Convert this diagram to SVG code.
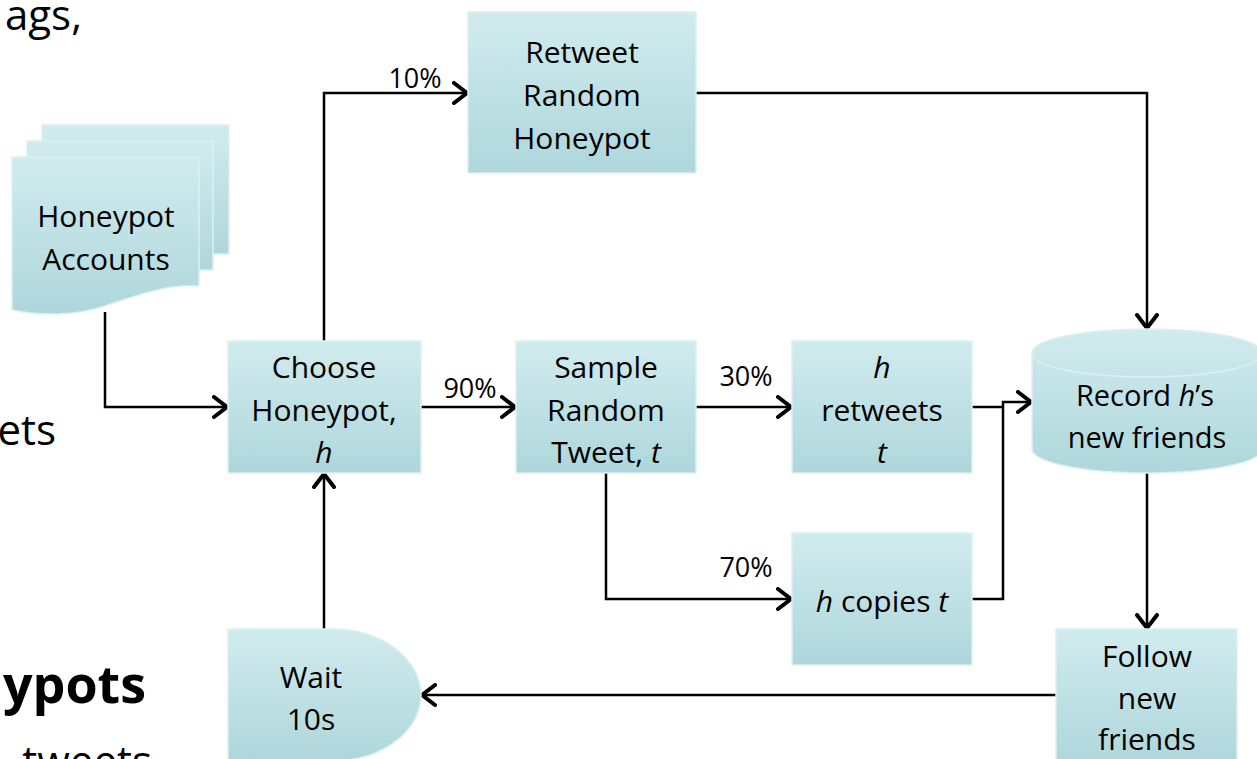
<svg xmlns="http://www.w3.org/2000/svg" width="1257" height="759" viewBox="0 0 1257 759">
<defs>
<linearGradient id="fill" x1="0" y1="0" x2="0" y2="1">
<stop offset="0" stop-color="#D1EBEE"/>
<stop offset="1" stop-color="#AED7DB"/>
</linearGradient>
<marker id="arr" viewBox="0 0 16 24" refX="15" refY="12" markerWidth="16" markerHeight="24" markerUnits="userSpaceOnUse" orient="auto">
<path d="M2,2 L15,12 L2,22" fill="none" stroke="#000" stroke-width="4" stroke-linecap="round" stroke-linejoin="miter"/>
</marker>
</defs>
<style>
.n{fill:url(#fill);stroke:#DDF0F2;stroke-width:1.5}
.t{font-family:"Open Sans","Liberation Sans",sans-serif;font-size:30px;fill:#000;text-anchor:middle}
.l{font-family:"Open Sans","Liberation Sans",sans-serif;font-size:27px;fill:#000;text-anchor:middle}
.bg{font-family:"Open Sans","Liberation Sans",sans-serif;font-size:42px;fill:#000;text-anchor:end}
.c{fill:none;stroke:#000;stroke-width:2.5;marker-end:url(#arr)}
.p{fill:none;stroke:#000;stroke-width:2.5}
.i{font-style:italic}
</style>
<rect width="1257" height="759" fill="#fff"/>
<g id="background-text">
<text class="bg" x="82" y="30">ags,</text>
<text class="bg" x="56" y="445">ets</text>
<text class="bg" x="146" y="703" style="font-weight:bold;font-size:52px">ypots</text>
<text class="bg" x="152" y="776">tweets</text>
</g>
<g id="connectors">
<path class="c" d="M105,312 V407 H227"/>
<path class="c" d="M324,341 V93 H467"/>
<path class="c" d="M421,407 H515"/>
<path class="c" d="M696,407 H791"/>
<path class="c" d="M606,473 V599 H791"/>
<path class="p" d="M972,407 H1003"/>
<path class="c" d="M972,599 H1003 V402 H1031"/>
<path class="c" d="M696,93 H1147 V328"/>
<path class="c" d="M1147,473 V628"/>
<path class="c" d="M1056,695 H422"/>
<path class="c" d="M324,629 V474"/>
<text class="l" x="415" y="88">10%</text>
<text class="l" x="470" y="398">90%</text>
<text class="l" x="746" y="386">30%</text>
<text class="l" x="746" y="577">70%</text>
</g>
<g id="honeypot-accounts">
<rect class="n" x="42" y="125" width="187" height="129"/>
<rect class="n" x="27" y="141" width="186" height="129"/>
<path class="n" d="M12,157 H199 V286 C165,284 135,296 105,306 C75,316 40,316 12,310 Z"/>
<text class="t" x="106" y="227">Honeypot</text>
<text class="t" x="106" y="270">Accounts</text>
</g>
<g id="retweet-random-honeypot">
<rect class="n" x="468" y="12" width="228" height="161"/>
<text class="t" x="582" y="63">Retweet</text>
<text class="t" x="582" y="106">Random</text>
<text class="t" x="582" y="149">Honeypot</text>
</g>
<g id="choose-honeypot">
<rect class="n" x="228" y="341" width="193" height="132"/>
<text class="t" x="324" y="378">Choose</text>
<text class="t" x="324" y="421">Honeypot,</text>
<text class="t i" x="324" y="463">h</text>
</g>
<g id="sample-random-tweet">
<rect class="n" x="516" y="341" width="180" height="132"/>
<text class="t" x="606" y="378">Sample</text>
<text class="t" x="606" y="421">Random</text>
<text class="t" x="606" y="463">Tweet, <tspan class="i">t</tspan></text>
</g>
<g id="h-retweets-t">
<rect class="n" x="792" y="341" width="180" height="132"/>
<text class="t i" x="882" y="378">h</text>
<text class="t" x="882" y="421">retweets</text>
<text class="t i" x="882" y="463">t</text>
</g>
<g id="h-copies-t">
<rect class="n" x="792" y="533" width="180" height="132"/>
<text class="t" x="882" y="612"><tspan class="i">h</tspan> copies <tspan class="i">t</tspan></text>
</g>
<g id="record-new-friends">
<path class="n" d="M1032,353 A115,24 0 0 1 1262,353 V449 A115,24 0 0 1 1032,449 Z"/>
<path d="M1032,353 A115,24 0 0 0 1262,353" fill="none" stroke="#DDF0F2" stroke-width="1.5"/>
<text class="t" x="1145" y="406" style="font-size:29px">Record <tspan class="i">h</tspan>’s</text>
<text class="t" x="1147" y="448" style="font-size:29px">new friends</text>
</g>
<g id="follow-new-friends">
<rect class="n" x="1056" y="629" width="181" height="135"/>
<text class="t" x="1147" y="667">Follow</text>
<text class="t" x="1147" y="709">new</text>
<text class="t" x="1147" y="750">friends</text>
</g>
<g id="wait-10s">
<path class="n" d="M228,629 H333 A88,66 0 0 1 333,761 H228 Z"/>
<text class="t" x="311" y="688">Wait</text>
<text class="t" x="311" y="730">10s</text>
</g>
</svg>
